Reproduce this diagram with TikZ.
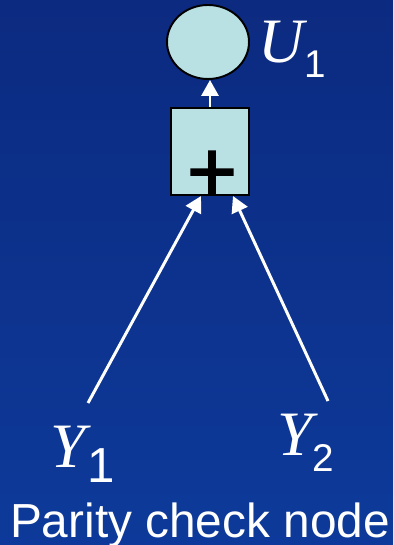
\documentclass[tikz,border=0pt]{standalone}
\usepackage{fontspec}
\setmainfont{Liberation Sans}
\newfontfamily\serifface{Liberation Serif}
\newfontfamily\plusface{Liberation Sans}[FakeBold=1.6]
\usepackage{tikz}
\usetikzlibrary{shapes.geometric, arrows.meta, positioning, calc}
\definecolor{slidetop}{RGB}{12, 42, 128}
\definecolor{slidebottom}{RGB}{13, 58, 154}
\definecolor{nodecyan}{RGB}{185, 225, 228}

\begin{document}
\begin{tikzpicture}[
    x=0.02cm, y=0.02cm,
    every node/.style={text=white, inner sep=0pt},
    varnode/.style={ellipse, draw=black, line width=1.1pt, fill=nodecyan,
        minimum width=1.64cm, minimum height=1.48cm},
    checknode/.style={rectangle, draw=black, line width=1.2pt, fill=nodecyan,
        minimum width=1.56cm, minimum height=1.74cm},
    wire/.style={draw=white, line width=1.7pt, -{Triangle[width=0.34cm, length=0.32cm]}}
]

% Slide background
\useasboundingbox (0,0) rectangle (393,545);
\shade[top color=slidetop, bottom color=slidebottom] (0,0) rectangle (393,545);

% Nodes
\node[varnode] (circ) at (208,503) {};
\node[checknode] (box) at (210,393.5) {};
\node[text=black, font=\plusface\fontsize{49}{49}\selectfont] (plus) at (212,369) {+};

% Labels
\node[anchor=base west, font=\fontsize{36}{36}\selectfont] (u1) at (258,482)
    {{\serifface\itshape U}\raisebox{-0.3cm}{\fontsize{22}{22}\selectfont 1}};
\node[anchor=base west, font=\fontsize{36}{36}\selectfont] (y1) at (50,77)
    {{\serifface\itshape Y}\hspace{0.04cm}\raisebox{-0.3cm}{\fontsize{28}{28}\selectfont 1}};
\node[anchor=base west, font=\fontsize{36}{36}\selectfont] (y2) at (277,90)
    {{\serifface\itshape Y}\raisebox{-0.34cm}{\fontsize{22}{22}\selectfont 2}};
\node[anchor=base, font=\fontsize{27.2}{28}\selectfont] (caption) at (200,8) {Parity check node};

% Edges
\coordinate (t1) at (88,142);
\coordinate (t2) at (328,144);
\draw[wire] (box.north) -- (box.north |- circ.south);
\draw[wire] (t1) -- ([xshift=-0.18cm]box.south);
\draw[wire] (t2) -- ([xshift=0.46cm]box.south);

\end{tikzpicture}
\end{document}
